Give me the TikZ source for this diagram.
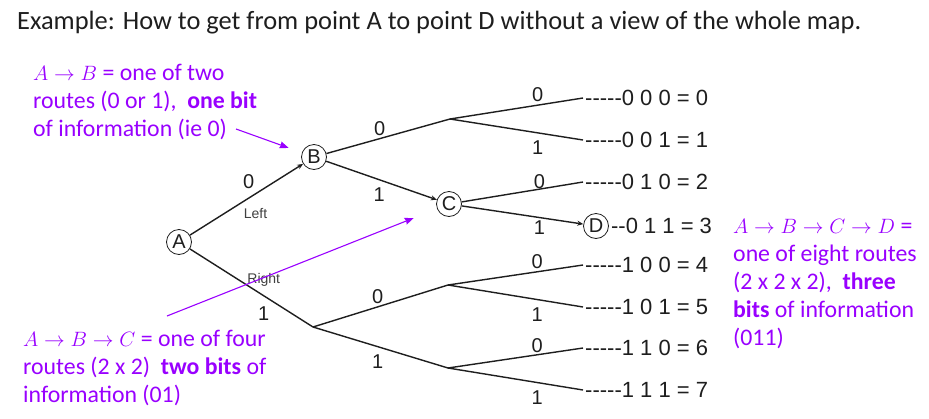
\documentclass[tikz,border=0pt]{standalone}
\usepackage{amsmath}
\usepackage{fontspec}
\setmainfont{Carlito}
\newfontfamily\arialfont{Liberation Sans}
\usepackage{xcolor}
\usepackage{tikz}
\usetikzlibrary{arrows.meta,positioning,calc}

\definecolor{notepurple}{RGB}{153,0,255}
\definecolor{treegray}{RGB}{30,30,30}
\newcommand\dashrun{\mbox{-}\mbox{-}\mbox{-}\mbox{-}\mbox{-}}
\newcommand\routemath[1]{{\fontsize{21.5}{28}\selectfont$#1$}}

\begin{document}
\begin{tikzpicture}[
    x=1pt, y=-1pt,
    place/.style={circle, draw=treegray, thick, inner sep=0pt, minimum size=25pt, font=\arialfont\fontsize{20}{21}\selectfont, text=treegray},
    branch/.style={draw=treegray, line width=1.4pt},
    tip/.style={-{Stealth[length=6pt, width=5pt]}},
    lbl/.style={font=\arialfont\fontsize{20}{21}\selectfont, text=treegray, inner sep=1pt},
    side/.style={font=\arialfont\fontsize{14}{15}\selectfont, text=treegray!85, inner sep=1pt},
    leaftext/.style={anchor=west, font=\arialfont\fontsize{22}{24}\selectfont, text=treegray, inner sep=2pt},
    note/.style={anchor=north west, align=left, inner sep=0pt, text=notepurple, font=\fontsize{23.8}{28}\selectfont},
    pointer/.style={draw=notepurple, line width=1.1pt, -{Stealth[length=9pt, width=7pt, inset=1pt]}}
]
\path[use as bounding box, fill=white] (0,0) rectangle (929,418);

% Title
\node[anchor=west, inner sep=0pt, font=\fontsize{26.4}{30}\selectfont, text=treegray] (title) at (17,23) {Example: How to get from point A to point D without a view of the whole map.};

% Places on the map
\node[place] (A) at (179,242) {A};
\node[place] (B) at (314,157) {B};
\node[place] (C) at (449,204) {C};
\node[place] (D) at (596,226) {D};
\coordinate (B0) at (450,119);
\coordinate (R)  at (313,327);
\coordinate (R0) at (448,285);
\coordinate (R1) at (448,368);

% Leaves
\foreach \i/\y in {0/98, 1/140, 2/182, 4/265, 5/307, 6/348, 7/390}
    \coordinate (leaf\i) at (583,\y);

% First step
\draw[branch, tip] (A) -- node[lbl, pos=.52, above=8pt] (ab-bit) {0} node[side, pos=.58, below=13pt] (ab-left) {Left} (B);
\draw[branch] (A) -- node[side, pos=.6, above=8pt] (ar-right) {Right} node[lbl, pos=.6, below=9pt] (ar-bit) {1} (R);

% Second step
\draw[branch] (B) -- node[lbl, pos=.43, above=1.5pt] {0} (B0);
\draw[branch, tip] (B) -- node[lbl, pos=.48, below=6.5pt] {1} (C);
\draw[branch] (R) -- node[lbl, pos=.48, above=1.5pt] {0} (R0);
\draw[branch] (R) -- node[lbl, pos=.48, below=6.5pt] {1} (R1);

% Third step
\draw[branch] (B0) -- node[lbl, pos=.66, above=1.5pt] {0} (leaf0);
\draw[branch] (B0) -- node[lbl, pos=.66, below=6.5pt] {1} (leaf1);
\draw[branch] (C) -- node[lbl, pos=.64, above=-1.5pt] {0} (leaf2);
\draw[branch, tip] (C) -- node[lbl, pos=.64, below=1.5pt] {1} (D);
\draw[branch] (R0) -- node[lbl, pos=.66, above=1.5pt] {0} (leaf4);
\draw[branch] (R0) -- node[lbl, pos=.66, below=6.5pt] {1} (leaf5);
\draw[branch] (R1) -- node[lbl, pos=.66, above=0.5pt] {0} (leaf6);
\draw[branch] (R1) -- node[lbl, pos=.66, below=6.5pt] {1} (leaf7);

% Route codes
\node[leaftext] (code0) at (leaf0) {\dashrun 0 0 0 = 0};
\node[leaftext] (code1) at (leaf1) {\dashrun 0 0 1 = 1};
\node[leaftext] (code2) at (leaf2) {\dashrun 0 1 0 = 2};
\node[leaftext, right=0pt of D] (code3) {\mbox{-}\mbox{-}0 1 1 = 3};
\node[leaftext] (code4) at (leaf4) {\dashrun 1 0 0 = 4};
\node[leaftext] (code5) at (leaf5) {\dashrun 1 0 1 = 5};
\node[leaftext] (code6) at (leaf6) {\dashrun 1 1 0 = 6};
\node[leaftext] (code7) at (leaf7) {\dashrun 1 1 1 = 7};

% Notes
\node[note] (ab-note) at (33,64) {\routemath{A \rightarrow B} = one of two\\routes (0 or 1),\ \ \textbf{one bit}\\of information (ie 0)};
\node[note] (abc-note) at (23,330) {\routemath{A \rightarrow B \rightarrow C} = one of four\\routes (2 x 2)\ \ \textbf{two bits} of\\information (01)};
\node[note] (abcd-note) at (733,219) {\routemath{A \rightarrow B \rightarrow C \rightarrow D} =\\one of eight routes\\(2 x 2 x 2),\ \ \textbf{three}\\\textbf{bits} of information\\(011)};

\coordinate (ab-tail) at (236,129);
\coordinate (abc-tail) at (167,316);
\draw[pointer, shorten >=14pt] (ab-tail) -- (B);
\draw[pointer, shorten >=25pt] (abc-tail) -- (C);

\end{tikzpicture}
\end{document}
